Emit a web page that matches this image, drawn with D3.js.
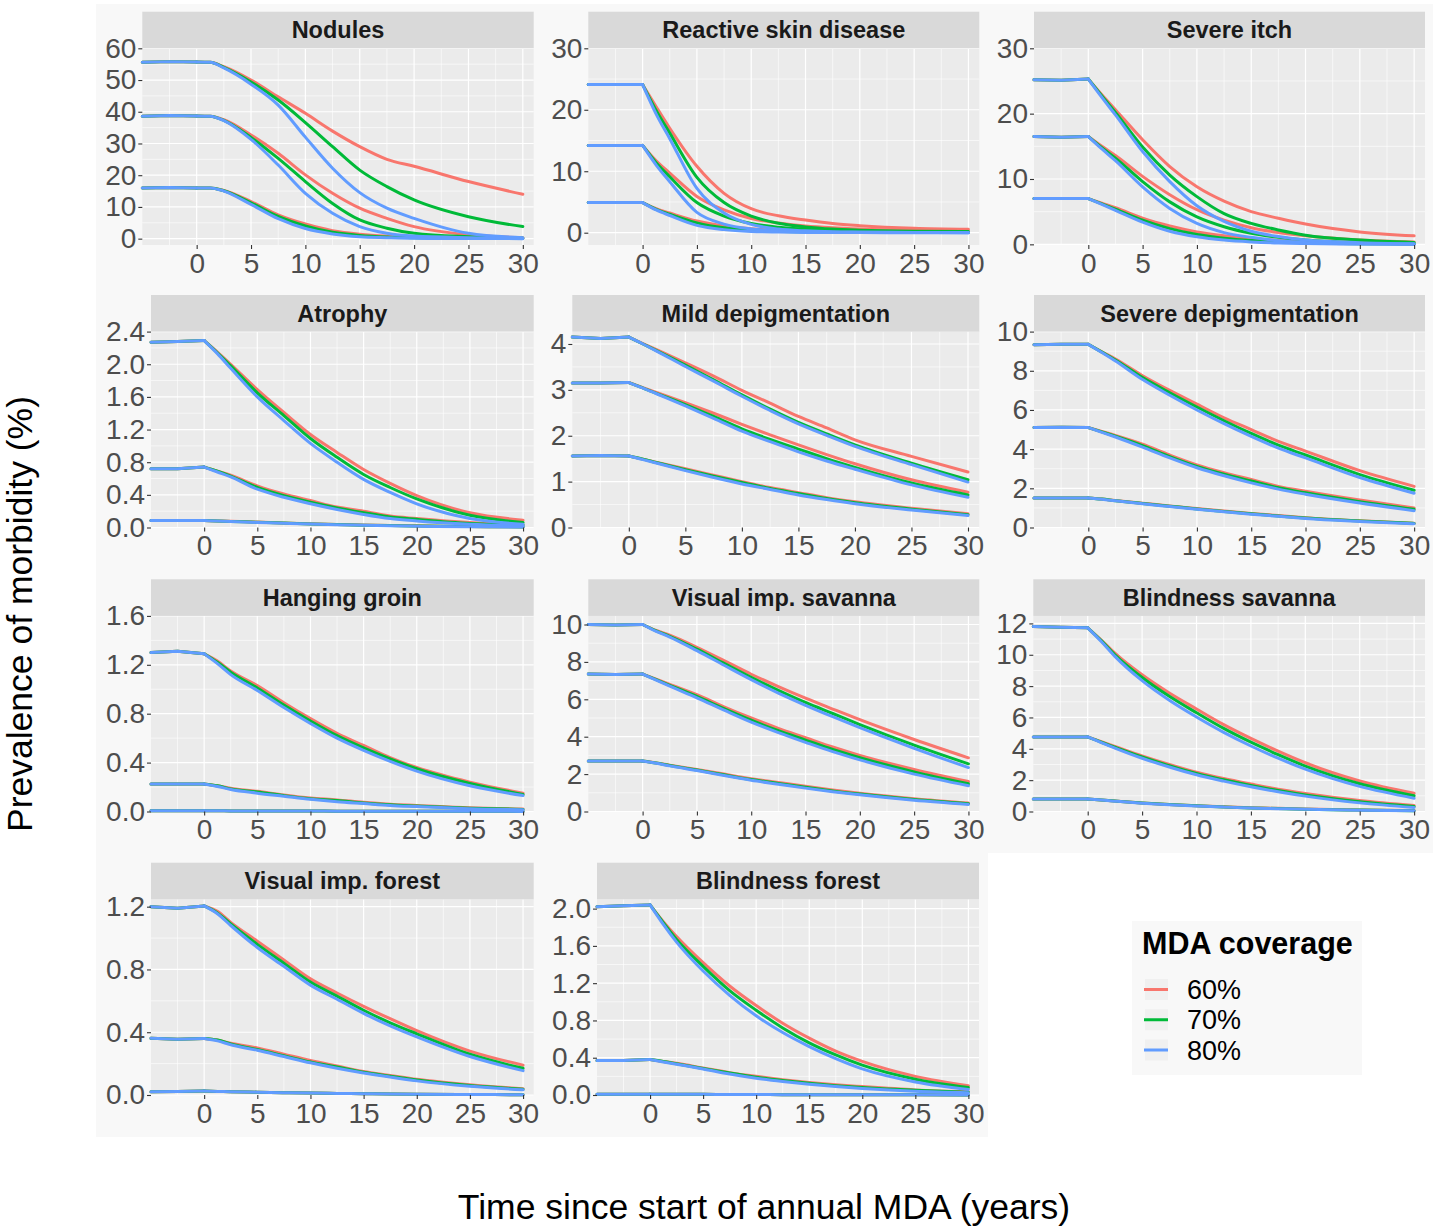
<!DOCTYPE html>
<html><head><meta charset="utf-8">
<script src="https://cdn.jsdelivr.net/npm/d3@7"></script>
<style>
html,body{margin:0;padding:0;background:#fff;}
svg{display:block;font-family:"Liberation Sans",Arial,Helvetica,sans-serif;}
.tick text{fill:#4d4d4d;font-size:28px;}
.tick line{stroke:#333;stroke-width:1.1;}
.strip-lab{fill:#1a1a1a;font-size:23.5px;font-weight:bold;}
.axis-title{fill:#000;font-size:35.5px;}
.leg-title{fill:#000;font-size:30.5px;font-weight:bold;}
.leg-lab{fill:#000;font-size:27px;}
</style></head><body>
<svg id="chart" width="1446" height="1226"></svg>
<script>
'use strict';
/* Morbidity prevalence under annual MDA: 11 small panels, each with three
   baseline levels (high / mid / low) x three coverage curves. */

const years=[-5,-2.5,0,1.25,2.5,5,7.5,10,12.5,15,17.5,20,25,30];
const coverages=['60%','70%','80%'];
const colors=['#F8766D','#00BA38','#619CFF'];

// rows: high 60/70/80, mid 60/70/80, low 60/70/80 — values at `years`
const nodules=[
  [55.6,55.8,55.7,55.6,54.2,50.0,44.7,39.5,33.9,29.0,25.0,22.8,18.0,14.0],
  [55.6,55.8,55.7,55.6,54.0,49.4,43.7,36.6,29.0,21.6,16.4,12.2,6.9,3.8],
  [55.6,55.8,55.7,55.6,53.8,48.7,42.1,32.0,22.2,14.5,9.6,6.4,1.7,0.3],
  [38.6,38.8,38.7,38.6,37.5,32.7,26.9,20.1,14.3,9.6,6.4,3.8,1.2,0.3],
  [38.6,38.8,38.7,38.6,37.3,31.9,25.3,18.0,11.1,5.9,3.3,1.7,0.6,0.2],
  [38.6,38.8,38.7,38.6,37.2,31.3,23.2,14.3,8.0,3.8,1.7,0.8,0.3,0.1],
  [16.0,16.1,16.0,16.0,15.2,11.7,7.5,4.6,2.5,1.4,0.8,0.5,0.2,0.1],
  [16.0,16.1,16.0,16.0,15.1,11.3,7.0,4.0,2.0,1.0,0.5,0.3,0.1,0.05],
  [16.0,16.1,16.0,16.0,15.0,10.8,6.3,3.2,1.5,0.6,0.3,0.1,0.05,0.0]];
const reactiveSkin=[
  [24.1,24.1,24.1,20.5,17.0,10.8,6.4,3.9,2.75,2.05,1.5,1.15,0.72,0.55],
  [24.1,24.1,24.1,19.9,16.2,9.0,4.9,2.7,1.55,0.95,0.6,0.42,0.25,0.2],
  [24.1,24.1,24.1,19.3,15.3,7.2,3.2,1.35,0.6,0.3,0.15,0.1,0.05,0.03],
  [14.2,14.2,14.2,11.7,9.7,5.9,3.7,2.3,1.6,1.1,0.8,0.6,0.35,0.25],
  [14.2,14.2,14.2,11.4,9.1,4.9,2.7,1.5,0.9,0.55,0.35,0.2,0.1,0.08],
  [14.2,14.2,14.2,11.0,8.3,3.3,1.4,0.6,0.3,0.15,0.08,0.05,0.02,0.01],
  [4.9,4.9,4.9,3.9,3.2,1.9,1.1,0.65,0.4,0.25,0.17,0.12,0.08,0.06],
  [4.9,4.9,4.9,3.8,3.0,1.6,0.8,0.45,0.25,0.14,0.08,0.05,0.03,0.02],
  [4.9,4.9,4.9,3.7,2.8,1.2,0.5,0.2,0.1,0.05,0.03,0.02,0.01,0.01]];
const severeItch=[
  [25.2,25.1,25.3,22.9,20.6,16.0,11.9,8.8,6.6,5.0,4.0,3.1,1.9,1.3],
  [25.2,25.1,25.3,22.7,20.2,14.9,10.6,7.3,4.7,3.2,2.2,1.4,0.66,0.3],
  [25.2,25.1,25.3,22.5,19.8,14.2,9.6,5.9,3.5,2.0,1.2,0.66,0.26,0.1],
  [16.5,16.4,16.5,15.0,13.6,10.4,7.6,5.3,3.7,2.55,1.8,1.3,0.66,0.36],
  [16.5,16.4,16.5,14.8,13.2,9.6,6.5,4.2,2.7,1.7,1.07,0.65,0.25,0.1],
  [16.5,16.4,16.5,14.6,12.8,8.8,5.5,3.2,1.8,1.07,0.55,0.3,0.1,0.05],
  [7.0,7.0,7.0,6.3,5.6,4.0,2.8,1.9,1.3,0.85,0.6,0.4,0.2,0.1],
  [7.0,7.0,7.0,6.2,5.4,3.7,2.4,1.5,0.95,0.6,0.38,0.24,0.1,0.05],
  [7.0,7.0,7.0,6.1,5.2,3.4,2.0,1.15,0.65,0.37,0.2,0.12,0.05,0.02]];
const atrophy=[
  [2.27,2.28,2.29,2.15,2.0,1.69,1.41,1.14,0.92,0.71,0.54,0.39,0.18,0.09],
  [2.27,2.28,2.29,2.14,1.98,1.65,1.37,1.09,0.86,0.65,0.49,0.35,0.15,0.06],
  [2.27,2.28,2.29,2.13,1.95,1.6,1.31,1.03,0.8,0.59,0.43,0.29,0.11,0.04],
  [0.72,0.72,0.74,0.69,0.64,0.51,0.41,0.33,0.25,0.2,0.14,0.11,0.06,0.03],
  [0.72,0.72,0.74,0.69,0.63,0.49,0.39,0.31,0.24,0.18,0.13,0.1,0.05,0.03],
  [0.72,0.72,0.74,0.68,0.62,0.47,0.37,0.29,0.22,0.16,0.11,0.08,0.04,0.02],
  [0.085,0.085,0.085,0.08,0.076,0.066,0.056,0.046,0.038,0.031,0.025,0.02,0.012,0.008],
  [0.085,0.085,0.085,0.08,0.075,0.064,0.054,0.044,0.036,0.029,0.023,0.018,0.011,0.007],
  [0.085,0.085,0.085,0.079,0.074,0.062,0.052,0.042,0.034,0.027,0.021,0.016,0.01,0.006]];
const mildDepig=[
  [4.15,4.12,4.15,4.01,3.87,3.59,3.3,2.99,2.71,2.42,2.17,1.91,1.55,1.21],
  [4.15,4.12,4.15,4.0,3.85,3.54,3.22,2.89,2.58,2.29,2.04,1.8,1.4,1.04],
  [4.15,4.12,4.15,4.0,3.84,3.51,3.19,2.86,2.55,2.26,2.01,1.77,1.37,0.99],
  [3.15,3.15,3.16,3.05,2.94,2.72,2.49,2.25,2.02,1.8,1.59,1.39,1.04,0.77],
  [3.15,3.15,3.16,3.04,2.92,2.68,2.42,2.15,1.92,1.71,1.5,1.31,0.97,0.71],
  [3.15,3.15,3.16,3.04,2.91,2.65,2.38,2.1,1.87,1.65,1.45,1.27,0.93,0.66],
  [1.56,1.57,1.56,1.49,1.42,1.28,1.14,1.0,0.87,0.76,0.65,0.56,0.42,0.3],
  [1.56,1.57,1.56,1.49,1.41,1.26,1.12,0.98,0.85,0.74,0.63,0.54,0.4,0.28],
  [1.56,1.57,1.56,1.48,1.4,1.24,1.09,0.95,0.83,0.71,0.61,0.52,0.38,0.26]];
const severeDepig=[
  [9.33,9.35,9.35,8.97,8.6,7.75,7.0,6.3,5.6,5.0,4.4,3.9,2.9,2.1],
  [9.33,9.35,9.35,8.95,8.55,7.65,6.88,6.15,5.45,4.8,4.2,3.7,2.7,1.9],
  [9.33,9.35,9.35,8.93,8.5,7.55,6.75,6.0,5.3,4.65,4.05,3.55,2.55,1.75],
  [5.1,5.12,5.1,4.9,4.7,4.25,3.7,3.2,2.8,2.45,2.1,1.85,1.4,1.0],
  [5.1,5.12,5.1,4.88,4.66,4.18,3.62,3.12,2.72,2.37,2.03,1.77,1.32,0.93],
  [5.1,5.12,5.1,4.86,4.62,4.1,3.55,3.05,2.64,2.28,1.96,1.7,1.25,0.86],
  [1.5,1.51,1.51,1.45,1.38,1.24,1.1,0.97,0.84,0.72,0.61,0.5,0.34,0.22],
  [1.5,1.51,1.51,1.45,1.37,1.23,1.09,0.95,0.82,0.7,0.59,0.48,0.33,0.21],
  [1.5,1.51,1.51,1.44,1.36,1.21,1.07,0.93,0.8,0.68,0.57,0.46,0.31,0.19]];
const hangingGroin=[
  [1.30,1.31,1.29,1.23,1.15,1.03,0.89,0.76,0.64,0.54,0.44,0.36,0.24,0.15],
  [1.30,1.31,1.29,1.22,1.14,1.01,0.87,0.74,0.62,0.52,0.43,0.35,0.23,0.14],
  [1.30,1.31,1.29,1.21,1.12,0.99,0.85,0.72,0.6,0.5,0.41,0.33,0.21,0.13],
  [0.225,0.225,0.225,0.21,0.19,0.165,0.135,0.11,0.095,0.075,0.06,0.05,0.03,0.02],
  [0.225,0.225,0.225,0.21,0.185,0.16,0.13,0.105,0.09,0.07,0.055,0.045,0.027,0.017],
  [0.225,0.225,0.225,0.205,0.18,0.15,0.125,0.1,0.08,0.065,0.05,0.04,0.022,0.014],
  [0.006,0.006,0.006,0.006,0.005,0.005,0.004,0.004,0.003,0.003,0.002,0.002,0.002,0.001],
  [0.006,0.006,0.006,0.006,0.005,0.005,0.004,0.004,0.003,0.003,0.002,0.002,0.002,0.001],
  [0.006,0.006,0.006,0.006,0.005,0.005,0.004,0.004,0.003,0.003,0.002,0.002,0.002,0.001]];
const visualSavanna=[
  [10.0,9.97,10.0,9.68,9.43,8.78,8.07,7.34,6.68,6.06,5.48,4.91,3.85,2.87],
  [10.0,9.97,10.0,9.66,9.37,8.68,7.92,7.17,6.48,5.83,5.24,4.65,3.55,2.55],
  [10.0,9.97,10.0,9.63,9.33,8.6,7.82,7.05,6.33,5.68,5.07,4.48,3.38,2.35],
  [7.35,7.33,7.35,7.08,6.8,6.25,5.6,5.0,4.45,3.95,3.45,3.0,2.25,1.6],
  [7.35,7.33,7.35,7.05,6.75,6.15,5.5,4.88,4.32,3.82,3.32,2.88,2.12,1.48],
  [7.35,7.33,7.35,7.02,6.7,6.08,5.42,4.78,4.22,3.7,3.2,2.76,2.0,1.38],
  [2.7,2.7,2.7,2.6,2.48,2.25,2.0,1.75,1.55,1.35,1.15,0.97,0.68,0.45],
  [2.7,2.7,2.7,2.59,2.46,2.22,1.96,1.71,1.5,1.3,1.1,0.93,0.64,0.42],
  [2.7,2.7,2.7,2.58,2.44,2.19,1.92,1.67,1.46,1.25,1.06,0.89,0.6,0.38]];
const blindSavanna=[
  [11.8,11.75,11.72,10.94,10.1,8.72,7.56,6.54,5.54,4.66,3.85,3.11,1.95,1.16],
  [11.8,11.75,11.72,10.9,10.0,8.55,7.35,6.3,5.3,4.42,3.63,2.9,1.77,1.0],
  [11.8,11.75,11.72,10.85,9.9,8.35,7.1,6.03,5.05,4.18,3.4,2.7,1.6,0.85],
  [4.75,4.76,4.76,4.45,4.15,3.55,3.0,2.5,2.1,1.75,1.42,1.15,0.7,0.38],
  [4.75,4.76,4.76,4.42,4.1,3.48,2.92,2.42,2.02,1.66,1.34,1.06,0.62,0.32],
  [4.75,4.76,4.76,4.4,4.05,3.4,2.84,2.34,1.94,1.58,1.26,0.98,0.55,0.26],
  [0.8,0.8,0.8,0.74,0.67,0.55,0.45,0.37,0.3,0.24,0.2,0.16,0.1,0.06],
  [0.8,0.8,0.8,0.74,0.67,0.54,0.44,0.36,0.29,0.23,0.19,0.15,0.09,0.05],
  [0.8,0.8,0.8,0.73,0.66,0.53,0.43,0.35,0.28,0.22,0.18,0.14,0.08,0.04]];
const visualForest=[
  [1.2,1.19,1.205,1.17,1.1,0.98,0.86,0.74,0.65,0.565,0.486,0.41,0.28,0.19],
  [1.2,1.19,1.205,1.16,1.09,0.96,0.84,0.72,0.63,0.54,0.46,0.39,0.26,0.17],
  [1.2,1.19,1.205,1.155,1.08,0.94,0.82,0.7,0.61,0.52,0.44,0.37,0.245,0.155],
  [0.362,0.355,0.36,0.35,0.33,0.3,0.26,0.22,0.185,0.15,0.125,0.1,0.065,0.04],
  [0.362,0.355,0.36,0.35,0.325,0.29,0.25,0.21,0.178,0.145,0.12,0.095,0.06,0.037],
  [0.362,0.355,0.36,0.345,0.32,0.285,0.245,0.205,0.17,0.14,0.114,0.09,0.055,0.033],
  [0.02,0.022,0.025,0.023,0.021,0.018,0.015,0.012,0.01,0.008,0.006,0.005,0.003,0.002],
  [0.02,0.022,0.025,0.023,0.021,0.018,0.015,0.012,0.01,0.008,0.006,0.005,0.003,0.002],
  [0.02,0.022,0.025,0.023,0.021,0.018,0.015,0.012,0.01,0.008,0.006,0.005,0.003,0.002]];
const blindForest=[
  [2.02,2.03,2.04,1.86,1.7,1.42,1.17,0.96,0.77,0.61,0.47,0.36,0.2,0.1],
  [2.02,2.03,2.04,1.85,1.67,1.38,1.12,0.91,0.72,0.56,0.43,0.32,0.17,0.08],
  [2.02,2.03,2.04,1.83,1.64,1.33,1.07,0.85,0.67,0.52,0.39,0.28,0.14,0.06],
  [0.37,0.37,0.38,0.36,0.34,0.29,0.24,0.2,0.165,0.135,0.11,0.09,0.055,0.035],
  [0.37,0.37,0.38,0.36,0.335,0.285,0.235,0.19,0.155,0.125,0.1,0.08,0.05,0.03],
  [0.37,0.37,0.38,0.355,0.33,0.28,0.225,0.18,0.145,0.115,0.09,0.07,0.04,0.025],
  [0.008,0.008,0.009,0.008,0.008,0.007,0.006,0.005,0.004,0.003,0.003,0.002,0.002,0.001],
  [0.008,0.008,0.009,0.008,0.008,0.007,0.006,0.005,0.004,0.003,0.003,0.002,0.002,0.001],
  [0.008,0.008,0.009,0.008,0.008,0.007,0.006,0.005,0.004,0.003,0.003,0.002,0.002,0.001]];

const panelNames=['Nodules','Reactive skin disease','Severe itch','Atrophy','Mild depigmentation',
  'Severe depigmentation','Hanging groin','Visual imp. savanna','Blindness savanna',
  'Visual imp. forest','Blindness forest'];
const panelSeries=[nodules,reactiveSkin,severeItch,atrophy,mildDepig,severeDepig,
  hangingGroin,visualSavanna,blindSavanna,visualForest,blindForest];
const yDomains=[[-2,60],[-2,30],[-0.1,30],[0,2.4],[0,4.27],[0,10],[0,1.6],[0,10.46],[0,12.48],[0,1.247],[0,2.1]];
const yTickSteps=[10,10,10,0.4,1,2,0.4,2,2,0.4,0.4];
const xMajor=[0,5,10,15,20,25,30];

// layout: plot-area left/right per panel, rows share strip/plot heights
const rowStripTop=[11.7,295,579.3,862.7], stripH=36.6;
const rowPlotBottom=[245,527.5,811.5,1095];
const panelX=[[142.3,533.7],[588.3,979.3],[1034,1425],
  [151,533.7],[572.3,979.3],[1034,1425],
  [151,533.7],[588.3,979.3],[1033.3,1425],
  [151,533.7],[597,979]];

const svg=d3.select('#chart');
// light figure backgrounds (each ggplot tile sits on grey98)
svg.append('rect').attr('x',96).attr('y',4).attr('width',1337).attr('height',849).attr('fill','#f8f8f8');
svg.append('rect').attr('x',96).attr('y',853).attr('width',892).attr('height',284).attr('fill','#f8f8f8');

const lineLin=d3.line().x(d=>d.x).y(d=>d.y);
const lineMono=d3.line().curve(d3.curveMonotoneX).x(d=>d.x).y(d=>d.y);

panelNames.forEach((name,i)=>{
  const row=Math.floor(i/3);
  const [x0,x1]=panelX[i];
  const top=rowStripTop[row]+stripH, bottom=rowPlotBottom[row];
  const x=d3.scaleLinear().domain([-5,31]).range([x0,x1]);
  const y=d3.scaleLinear().domain(yDomains[i]).range([bottom,top]);
  const step=yTickSteps[i], dom=yDomains[i];
  const yMajor=d3.range(0,dom[1]+1e-9,step).map(v=>+v.toFixed(4));
  const yMinor=yMajor.map(v=>v+step/2).concat([-step/2]).filter(v=>v>dom[0]&&v<dom[1]);
  const xMinor=d3.range(-2.5,31,5);
  const g=svg.append('g');

  g.append('rect').attr('x',x0).attr('y',top).attr('width',x1-x0).attr('height',bottom-top).attr('fill','#ebebeb');
  g.selectAll('.ymin').data(yMinor).join('line').attr('x1',x0).attr('x2',x1)
    .attr('y1',d=>y(d)).attr('y2',d=>y(d)).attr('stroke','#fff').attr('stroke-width',0.6);
  g.selectAll('.xmin').data(xMinor).join('line').attr('y1',top).attr('y2',bottom)
    .attr('x1',d=>x(d)).attr('x2',d=>x(d)).attr('stroke','#fff').attr('stroke-width',0.6);
  g.selectAll('.ymaj').data(yMajor).join('line').attr('x1',x0).attr('x2',x1)
    .attr('y1',d=>y(d)).attr('y2',d=>y(d)).attr('stroke','#fff').attr('stroke-width',1.2);
  g.selectAll('.xmaj').data(xMajor).join('line').attr('y1',top).attr('y2',bottom)
    .attr('x1',d=>x(d)).attr('x2',d=>x(d)).attr('stroke','#fff').attr('stroke-width',1.2);

  // strip
  g.append('rect').attr('x',x0).attr('y',rowStripTop[row]).attr('width',x1-x0).attr('height',stripH).attr('fill','#d9d9d9');
  g.append('text').attr('class','strip-lab').attr('x',(x0+x1)/2).attr('y',rowStripTop[row]+stripH/2)
    .attr('dy','0.36em').attr('text-anchor','middle').text(name);

  // curves: all 60% first, then 70%, then 80% on top
  const rows=panelSeries[i];
  [0,1,2].forEach(c=>{
    [0,1,2].forEach(grp=>{
      const pts=years.map((yr,k)=>({x:x(yr),y:y(rows[grp*3+c][k])}));
      const pre=pts.filter((_,k)=>years[k]<=0), post=pts.filter((_,k)=>years[k]>=0);
      [[pre,lineLin],[post,lineMono]].forEach(([p,gen])=>{
        g.append('path').attr('d',gen(p)).attr('fill','none').attr('stroke',colors[c])
          .attr('stroke-width',3).attr('stroke-linejoin','round').attr('stroke-linecap','round');
      });
    });
  });

  // axes
  const fmt=step<1?d3.format('.1f'):d3.format('d');
  const ay=g.append('g').attr('transform',`translate(${x0},0)`)
    .call(d3.axisLeft(y).tickValues(yMajor).tickFormat(fmt).tickSize(4).tickPadding(2));
  ay.select('.domain').remove();
  ay.attr('font-size',null).attr('font-family',null);
  const ax=g.append('g').attr('transform',`translate(0,${bottom})`)
    .call(d3.axisBottom(x).tickValues(xMajor).tickFormat(d3.format('d')).tickSize(4).tickPadding(4));
  ax.select('.domain').remove();
  ax.attr('font-size',null).attr('font-family',null);
});

// axis titles
svg.append('text').attr('class','axis-title').attr('x',764).attr('y',1219)
  .attr('text-anchor','middle').text('Time since start of annual MDA (years)');
svg.append('text').attr('class','axis-title').attr('transform','translate(32,614) rotate(-90)')
  .attr('text-anchor','middle').text('Prevalence of morbidity (%)');

// legend
const leg=svg.append('g');
leg.append('rect').attr('x',1132).attr('y',921).attr('width',230).attr('height',154).attr('fill','#f8f8f8');
leg.append('text').attr('class','leg-title').attr('x',1142).attr('y',954).text('MDA coverage');
const legY=d3.scalePoint().domain(coverages).range([989.5,1050]);
coverages.forEach((lab,c)=>{
  const cy=legY(lab);
  leg.append('rect').attr('x',1145).attr('y',cy-10.5).attr('width',23).attr('height',21).attr('fill','#f0f0f0');
  leg.append('line').attr('x1',1144).attr('x2',1168).attr('y1',cy).attr('y2',cy)
    .attr('stroke',colors[c]).attr('stroke-width',3);
  leg.append('text').attr('class','leg-lab').attr('x',1187).attr('y',cy).attr('dy','0.36em').text(lab);
});
</script>
</body></html>
